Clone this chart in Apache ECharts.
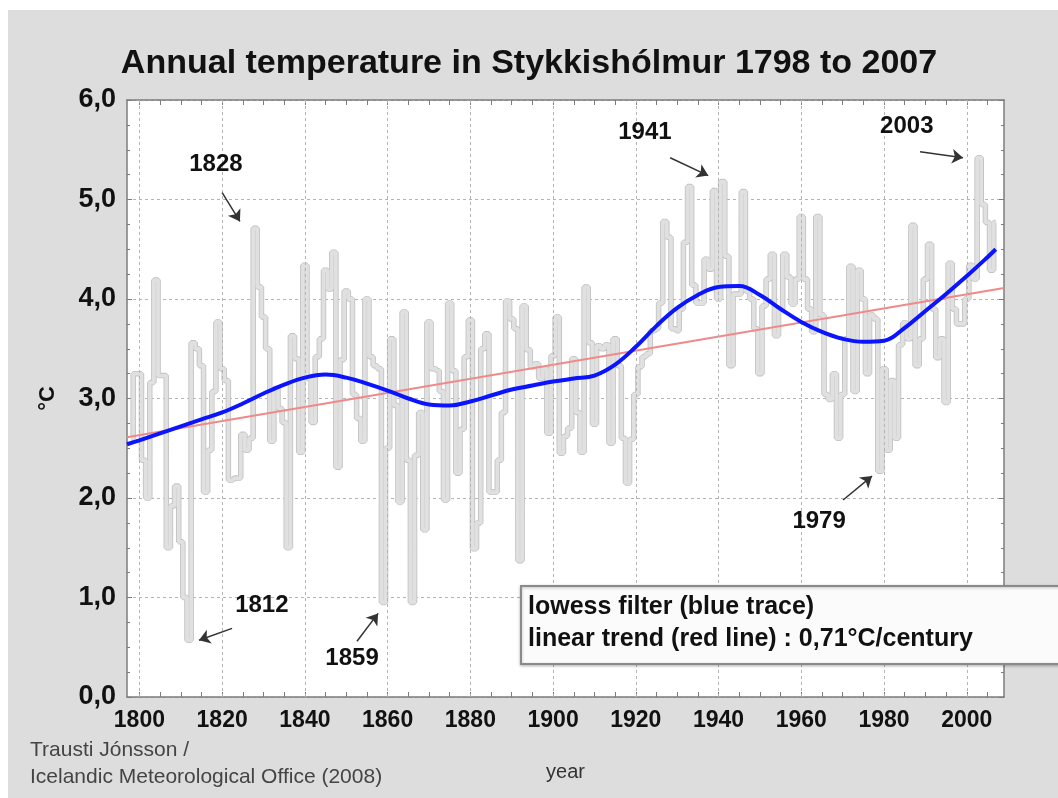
<!DOCTYPE html>
<html lang="en">
<head>
    <meta charset="UTF-8"/>
    <script src="https://cdn.jsdelivr.net/npm/echarts@6/dist/echarts.min.js"></script>
    <title>Annual temperature in Stykkishólmur</title>
    <style>
        html, body {
            margin: 0;
            padding: 0;
            background: #fff;
        }
        #chart {
            position: absolute;
            left: 8px;
            top: 10px;
            width: 1050px;
            height: 788px;
        }
    </style>
</head>
<body>
<div id="chart"></div>
<script type="text/javascript">
    // annual means, 1798 .. 2007
    var firstYear = 1798;
    var annualTemp = [
        2.60, 3.25,
        3.25, 2.38, 2.00, 3.16, 4.19, 3.23, 3.23, 1.50, 1.92, 2.12,
        1.56, 1.00, 0.57, 3.56, 3.50, 3.33, 2.06, 2.48, 3.07, 3.77,
        3.30, 3.18, 2.18, 2.20, 2.20, 2.64, 2.48, 2.60, 4.71, 4.12,
        3.82, 3.50, 2.57, 3.10, 2.90, 2.76, 1.50, 3.63, 3.40, 2.46,
        4.34, 3.20, 2.76, 3.42, 3.60, 4.29, 4.10, 4.47, 2.31, 3.39,
        4.08, 4.00, 3.04, 2.80, 2.57, 4.00, 3.42, 3.33, 3.30, 0.95,
        2.50, 3.60, 2.93, 1.96, 3.87, 2.38, 0.95, 2.43, 2.86, 1.68,
        3.77, 3.30, 3.28, 3.07, 1.98, 3.96, 3.28, 2.25, 2.69, 3.42,
        3.79, 1.49, 1.75, 3.50, 3.65, 2.06, 2.06, 2.38, 2.86, 3.98,
        3.80, 3.70, 1.37, 3.93, 3.49, 3.32, 3.35, 3.20, 3.30, 2.65,
        3.43, 3.82, 2.45, 2.62, 2.70, 3.40, 2.86, 2.46, 4.12, 3.56,
        2.74, 3.53, 3.50, 3.54, 2.55, 3.60, 3.33, 2.60, 2.15, 2.59,
        3.04, 3.32, 3.42, 3.45, 3.68, 3.70, 3.96, 4.78, 4.62, 3.70,
        3.68, 3.90, 4.57, 5.13, 4.14, 3.96, 3.96, 4.40, 4.30, 5.09,
        4.00, 5.18, 4.43, 3.33, 4.05, 4.05, 5.08, 4.08, 4.00, 3.70,
        3.25, 3.93, 4.20, 4.45, 3.63, 3.90, 4.45, 4.22, 3.95, 4.20,
        4.83, 4.20, 3.90, 3.67, 4.83, 3.84, 3.04, 2.99, 3.25, 2.60,
        3.04, 3.60, 4.33, 3.07, 4.29, 4.00, 3.25, 3.84, 3.80, 2.27,
        3.30, 2.48, 3.18, 2.60, 3.54, 3.76, 3.60, 4.74, 3.33, 3.60,
        4.20, 4.55, 3.90, 3.41, 3.60, 2.96, 4.36, 3.90, 3.75, 3.75,
        4.00, 4.34, 4.20, 5.42, 4.95, 4.77, 4.29, 4.77
    ];

    // lowess filter (blue trace)
    var lowessYears = [1797, 1800, 1805, 1810, 1815, 1820, 1825, 1830, 1835, 1840,
        1845, 1850, 1855, 1860, 1865, 1870, 1875, 1880, 1885, 1890,
        1895, 1900, 1905, 1910, 1915, 1920, 1925, 1930, 1935, 1940,
        1945, 1950, 1955, 1960, 1965, 1970, 1975, 1980, 1985, 1990,
        1995, 2000, 2005, 2007];
    var lowessValues = [2.54, 2.58, 2.65, 2.72, 2.79, 2.86, 2.95, 3.05, 3.14, 3.21,
        3.24, 3.21, 3.15, 3.08, 3.00, 2.94, 2.93, 2.97, 3.03, 3.09,
        3.13, 3.17, 3.20, 3.23, 3.34, 3.52, 3.73, 3.91, 4.04, 4.12,
        4.13, 4.04, 3.90, 3.77, 3.67, 3.60, 3.57, 3.58, 3.71, 3.88,
        4.05, 4.23, 4.42, 4.50];

    // linear trend (red line)
    var trendYears = [1797, 2009];
    var trendValues = [2.61, 4.11];

    var yearLabels = [1800, 1820, 1840, 1860, 1880, 1900, 1920, 1940, 1960, 1980, 2000];
    var yearTicks = [1800, 1805, 1810, 1815, 1820, 1825, 1830, 1835, 1840, 1845,
        1850, 1855, 1860, 1865, 1870, 1875, 1880, 1885, 1890, 1895,
        1900, 1905, 1910, 1915, 1920, 1925, 1930, 1935, 1940, 1945,
        1950, 1955, 1960, 1965, 1970, 1975, 1980, 1985, 1990, 1995,
        2000, 2005];

    // annotated years: label spot and arrow, in year / °C
    var noteText = ['1828', '1812', '1859', '1941', '2003', '1979'];
    var noteAt = [[1818.5, 5.35], [1829.6, 0.92], [1851.4, 0.39], [1922.2, 5.67], [1985.5, 5.73], [1964.3, 1.77]];
    var arrowFrom = [[1820.0, 5.07], [1822.4, 0.69], [1852.6, 0.56], [1928.3, 5.42], [1988.7, 5.48], [1970.1, 1.98]];
    var arrowTo = [[1824.3, 4.78], [1814.4, 0.57], [1857.7, 0.84], [1937.5, 5.24], [1999.1, 5.42], [1977.1, 2.22]];

    var font = 'Liberation Sans, Arial, Helvetica, sans-serif';

    var annualData = [];
    for (var i = 0; i < annualTemp.length; i++) {
        annualData.push([firstYear + i, annualTemp[i]]);
    }
    var lowessData = lowessYears.map(function (y, k) { return [y, lowessValues[k]]; });
    var trendData = trendYears.map(function (y, k) { return [y, trendValues[k]]; });

    var notePoints = noteText.map(function (t, k) {
        return {name: t, coord: noteAt[k]};
    });
    var noteArrows = noteText.map(function (t, k) {
        return [{coord: arrowFrom[k]}, {coord: arrowTo[k]}];
    });

    var myChart = echarts.init(document.getElementById('chart'));

    var axisGrey = '#7c7c7c';

    var option = {
        animation: false,
        backgroundColor: '#dddddd',
        grid: {
            left: 119,
            top: 90,
            width: 877,
            height: 597,
            show: true,
            backgroundColor: '#fff',
            borderWidth: 0
        },
        graphic: [
            {
                type: 'text',
                x: 521,
                y: 54,
                style: {
                    text: 'Annual temperature in Stykkishólmur 1798 to 2007',
                    font: 'bold 34px ' + font,
                    fill: '#111',
                    textAlign: 'center',
                    textVerticalAlign: 'middle'
                }
            },
            {
                type: 'text',
                x: 22,
                y: 740,
                style: {
                    text: 'Trausti Jónsson /',
                    font: '21px ' + font,
                    fill: '#444',
                    textVerticalAlign: 'middle'
                }
            },
            {
                type: 'text',
                x: 22,
                y: 767,
                style: {
                    text: 'Icelandic Meteorological Office (2008)',
                    font: '21px ' + font,
                    fill: '#444',
                    textVerticalAlign: 'middle'
                }
            },
            {
                type: 'rect',
                z: 100,
                shape: {x: 513, y: 576, width: 560, height: 78},
                style: {
                    fill: '#fbfbfb',
                    stroke: '#8a8a8a',
                    lineWidth: 2,
                    shadowBlur: 3,
                    shadowColor: 'rgba(0,0,0,0.25)',
                    shadowOffsetY: 1
                }
            },
            {
                type: 'text',
                z: 101,
                x: 520,
                y: 597,
                style: {
                    text: 'lowess filter (blue trace)',
                    font: 'bold 25px ' + font,
                    fill: '#111',
                    textVerticalAlign: 'middle'
                }
            },
            {
                type: 'text',
                z: 101,
                x: 520,
                y: 629,
                style: {
                    text: 'linear trend (red line) : 0,71°C/century',
                    font: 'bold 25px ' + font,
                    fill: '#111',
                    textVerticalAlign: 'middle'
                }
            }
        ],
        xAxis: [
            {
                type: 'value',
                min: 1797,
                max: 2009,
                position: 'bottom',
                axisLine: {show: true, onZero: false, lineStyle: {color: axisGrey, width: 1.5}},
                axisTick: {show: true, inside: true, length: 5, customValues: yearTicks, lineStyle: {color: axisGrey}},
                axisLabel: {
                    customValues: yearLabels,
                    formatter: function (v) { return String(v); },
                    margin: 12,
                    fontSize: 23,
                    fontWeight: 'bold',
                    fontFamily: font,
                    color: '#111'
                },
                splitLine: {show: false},
                name: 'year',
                nameLocation: 'middle',
                nameGap: 65,
                nameTextStyle: {fontSize: 20, fontFamily: font, color: '#333'}
            },
            {
                type: 'value',
                min: 1797,
                max: 2009,
                position: 'top',
                axisLine: {show: true, onZero: false, lineStyle: {color: axisGrey, width: 1.5}},
                axisTick: {show: true, inside: true, length: 5, customValues: yearTicks, lineStyle: {color: axisGrey}},
                axisLabel: {show: false},
                splitLine: {show: false}
            }
        ],
        yAxis: [
            {
                type: 'value',
                min: 0,
                max: 6,
                interval: 1,
                position: 'left',
                axisLine: {show: true, onZero: false, lineStyle: {color: axisGrey, width: 1.5}},
                axisTick: {show: true, inside: true, length: 5, lineStyle: {color: axisGrey}},
                minorTick: {show: true, splitNumber: 4, length: 3, lineStyle: {color: axisGrey}},
                axisLabel: {
                    formatter: function (v) { return v.toFixed(1).replace('.', ','); },
                    margin: 11,
                    fontSize: 27,
                    fontWeight: 'bold',
                    fontFamily: font,
                    color: '#111'
                },
                splitLine: {show: true, lineStyle: {color: '#b4b4b4', type: [3, 3], width: 1}},
                name: '°C',
                nameLocation: 'middle',
                nameGap: 68,
                nameRotate: 90,
                nameTextStyle: {fontSize: 22, fontWeight: 'bold', fontFamily: font, color: '#111'}
            },
            {
                type: 'value',
                min: 0,
                max: 6,
                interval: 1,
                position: 'right',
                axisLine: {show: true, onZero: false, lineStyle: {color: axisGrey, width: 1.5}},
                axisTick: {show: true, inside: true, length: 5, lineStyle: {color: axisGrey}},
                minorTick: {show: true, splitNumber: 4, length: 3, lineStyle: {color: axisGrey}},
                axisLabel: {show: false},
                splitLine: {show: false}
            }
        ],
        series: [
            {
                name: 'annual outline',
                type: 'line',
                step: 'middle',
                data: annualData,
                showSymbol: false,
                silent: true,
                z: 2,
                lineStyle: {color: '#c2c2c2', width: 5.5},
                markLine: {
                    silent: true,
                    symbol: 'none',
                    label: {show: false},
                    lineStyle: {color: '#b4b4b4', type: [3, 3], width: 1},
                    data: yearLabels.map(function (y) { return {xAxis: y}; })
                }
            },
            {
                name: 'annual',
                type: 'line',
                step: 'middle',
                data: annualData,
                showSymbol: false,
                silent: true,
                z: 3,
                lineStyle: {color: '#e0e0e0', width: 3.8}
            },
            {
                name: 'linear trend',
                type: 'line',
                data: trendData,
                showSymbol: false,
                silent: true,
                z: 4,
                lineStyle: {color: '#f08a8a', width: 2}
            },
            {
                name: 'lowess',
                type: 'line',
                data: lowessData,
                smooth: 0.4,
                showSymbol: false,
                silent: true,
                z: 5,
                lineStyle: {color: '#0a14ff', width: 4},
                markLine: {
                    silent: true,
                    symbol: ['none', 'arrow'],
                    symbolSize: 11,
                    label: {show: false},
                    lineStyle: {color: '#333', type: 'solid', width: 1.5},
                    data: noteArrows
                },
                markPoint: {
                    silent: true,
                    symbol: 'circle',
                    symbolSize: 0,
                    itemStyle: {color: 'rgba(0,0,0,0)'},
                    label: {
                        show: true,
                        position: 'inside',
                        formatter: function (p) { return p.name; },
                        fontSize: 24,
                        fontWeight: 'bold',
                        fontFamily: font,
                        color: '#111'
                    },
                    data: notePoints
                }
            }
        ]
    };

    myChart.setOption(option);
</script>
</body>
</html>
